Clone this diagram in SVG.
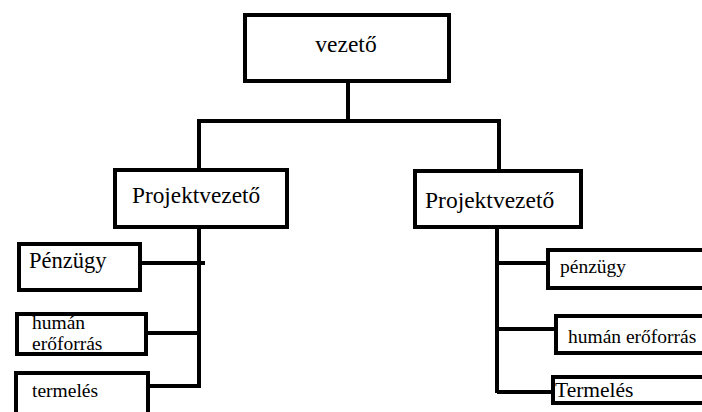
<svg xmlns="http://www.w3.org/2000/svg" width="702" height="412" viewBox="0 0 702 412">
<style>
.box{fill:#fff;stroke:#000;stroke-width:4}
.ln{fill:none;stroke:#000;stroke-width:4}
</style>
<rect width="702" height="412" fill="#fff"/>
<g id="connectors">
<path class="ln" d="M348,82 V121 M199,121 H499 M199,119 V170 M499,119 V171"/>
<path class="ln" d="M199,227 V388 M140,263 H205 M146,333 H199 M148,386 H201"/>
<path class="ln" d="M497,227 V393 M497,263 H546 M497,329 H554 M497,392 H551"/>
</g>
<g font-family="'Liberation Serif', 'DejaVu Serif', 'Times New Roman', serif" fill="#000">
<g id="vezeto"><rect class="box" x="245" y="15" width="204" height="66"/><text x="346" y="52" font-size="23.5" text-anchor="middle">vezető</text></g>
<g id="pv-left"><rect class="box" x="115" y="170" width="172" height="57"/><text x="132" y="203" font-size="23.3">Projektvezető</text></g>
<g id="pv-right"><rect class="box" x="415" y="171" width="166" height="56"/><text x="425" y="208" font-size="23.5">Projektvezető</text></g>
<g id="penzugy-left"><rect class="box" x="19" y="244" width="121" height="46"/><text x="29" y="268" font-size="22.5">Pénzügy</text></g>
<g id="human-left"><rect class="box" x="17" y="314" width="129" height="40"/><text x="32" y="329" font-size="19.5">humán</text><text x="32" y="350" font-size="19.5">erőforrás</text></g>
<g id="termeles-left"><rect class="box" x="16" y="373" width="132" height="50"/><text x="32" y="397" font-size="19.5">termelés</text></g>
<g id="penzugy-right"><rect class="box" x="548" y="250" width="170" height="38"/><text x="560" y="273" font-size="19.5">pénzügy</text></g>
<g id="human-right"><rect class="box" x="556" y="316" width="160" height="37"/><text x="568" y="343" font-size="19.5">humán erőforrás</text></g>
<g id="termeles-right"><rect class="box" x="553" y="377" width="160" height="26"/><text x="555" y="397" font-size="21.5">Termelés</text></g>
</g>
</svg>
